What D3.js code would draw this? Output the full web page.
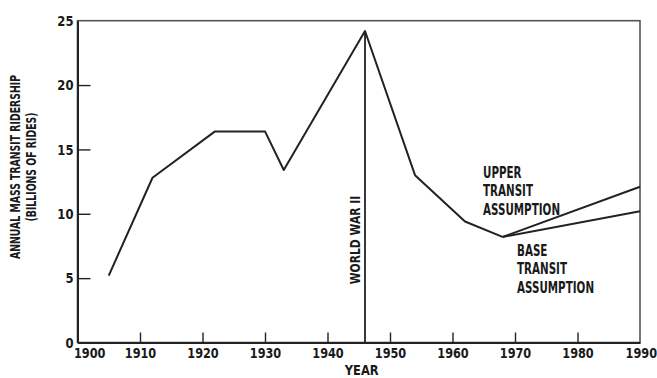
<!DOCTYPE html>
<html>
<head>
<meta charset="utf-8">
<script src="https://cdn.jsdelivr.net/npm/d3@7"></script>
<style>
  html, body { margin: 0; padding: 0; background: #fff; }
  svg { display: block; }
  text { font-family: 'DejaVu Sans', sans-serif; font-weight: bold; fill: #1a1a1a; }
</style>
</head>
<body>
<svg id="chart" width="657" height="378"></svg>
<script>
// ridership history (billions of rides)
var years = [1905, 1912, 1922, 1930, 1933, 1946, 1954, 1962, 1968];
var ridership = [5.2, 12.8, 16.4, 16.4, 13.4, 24.2, 13.0, 9.4, 8.2];

// projections from 1968 to 1990
var projYears = [1968, 1990];
var upperProj = [8.2, 12.1];
var baseProj = [8.2, 10.2];

var xTicks = [1900, 1910, 1920, 1930, 1940, 1950, 1960, 1970, 1980, 1990];
var yTicks = [0, 5, 10, 15, 20, 25];
var warYear = 1946;

var svg = d3.select('#chart');
var ink = '#222';

var x = d3.scaleLinear().domain([1900, 1990]).range([77.5, 640]);
var y = d3.scaleLinear().domain([0, 25]).range([342.5, 20.7]);

// frame
svg.append('rect')
  .attr('x', x(1900)).attr('y', y(25))
  .attr('width', x(1990) - x(1900)).attr('height', y(0) - y(25))
  .attr('fill', 'none').attr('stroke', '#555').attr('stroke-width', 1.6);

//////////
// Axes //
//////////

// the original lettering is a narrow gothic: DejaVu gets squeezed with scale(k,1)
var xAxis = svg.append('g')
  .attr('transform', 'translate(0,' + y(0) + ')')
  .call(d3.axisBottom(x).tickValues(xTicks).tickFormat(d3.format('d'))
    .tickSizeInner(-10).tickSizeOuter(0).tickPadding(5));

xAxis.selectAll('text').style('font-size', '14.5px').attr('fill', ink)
  .attr('transform', 'scale(0.78,1)');
xAxis.selectAll('text').filter(function(d) { return d === 1900; }).attr('dx', 15);
xAxis.selectAll('text').filter(function(d) { return d === 1990; }).attr('dx', 1);

var yAxis = svg.append('g')
  .attr('transform', 'translate(' + x(1900) + ',0)')
  .call(d3.axisLeft(y).tickValues(yTicks).tickSizeInner(-13).tickSizeOuter(0).tickPadding(5));

yAxis.selectAll('text').style('font-size', '14.5px').attr('fill', ink)
  .attr('transform', 'scale(0.8,1)');

[xAxis, yAxis].forEach(function(ax) {
  ax.select('.domain').attr('stroke', ink).attr('stroke-width', 2);
  ax.selectAll('.tick line').attr('stroke', ink).attr('stroke-width', 1.4);
});
xAxis.selectAll('.tick line').filter(function(d) { return d === 1900 || d === 1990; }).remove();
yAxis.selectAll('.tick line').filter(function(d) { return d === 0 || d === 25; }).remove();

// axis titles
svg.append('text')
  .attr('transform', 'translate(' + (x(1945) + 3) + ',375) scale(0.82,1)')
  .attr('text-anchor', 'middle').style('font-size', '14px')
  .text('YEAR');

var yTitle = svg.append('text')
  .attr('transform', 'translate(20,167) rotate(-90) scale(0.69,1)')
  .attr('text-anchor', 'middle').style('font-size', '13.5px');
yTitle.append('tspan').attr('x', 0).attr('dy', 0).text('ANNUAL MASS TRANSIT RIDERSHIP');
yTitle.append('tspan').attr('x', 0).attr('dy', 16).text('(BILLIONS OF RIDES)');

///////////
// Lines //
///////////

var line = d3.line()
  .x(function(d) { return x(d[0]); })
  .y(function(d) { return y(d[1]); });

var pastPoints = d3.zip(years, ridership);

svg.append('path')
  .attr('d', line(pastPoints))
  .attr('fill', 'none').attr('stroke', ink).attr('stroke-width', 2)
  .attr('stroke-linejoin', 'round');

[upperProj, baseProj].forEach(function(vals) {
  svg.append('path')
    .attr('d', line(d3.zip(projYears, vals)))
    .attr('fill', 'none').attr('stroke', ink).attr('stroke-width', 2);
});

// World War II marker
var peak = ridership[years.indexOf(warYear)];
svg.append('line')
  .attr('x1', x(warYear)).attr('x2', x(warYear))
  .attr('y1', y(peak)).attr('y2', y(0))
  .attr('stroke', ink).attr('stroke-width', 1.8);

svg.append('text')
  .attr('transform', 'translate(' + (x(warYear) - 5) + ',240) rotate(-90) scale(0.77,1)')
  .attr('text-anchor', 'middle').style('font-size', '14px')
  .text('WORLD WAR II');

////////////////////////
// Projection labels  //
////////////////////////

var addBlock = function(lines, left, top) {
  var t = svg.append('text').style('font-size', '15px')
    .attr('transform', 'translate(' + left + ',' + top + ') scale(0.69,1)');
  lines.forEach(function(s, i) {
    t.append('tspan').attr('x', 0).attr('y', i * 18.5).text(s);
  });
};

addBlock(['UPPER', 'TRANSIT', 'ASSUMPTION'], 483, 178);
addBlock(['BASE', 'TRANSIT', 'ASSUMPTION'], 517, 256);
</script>
</body>
</html>
